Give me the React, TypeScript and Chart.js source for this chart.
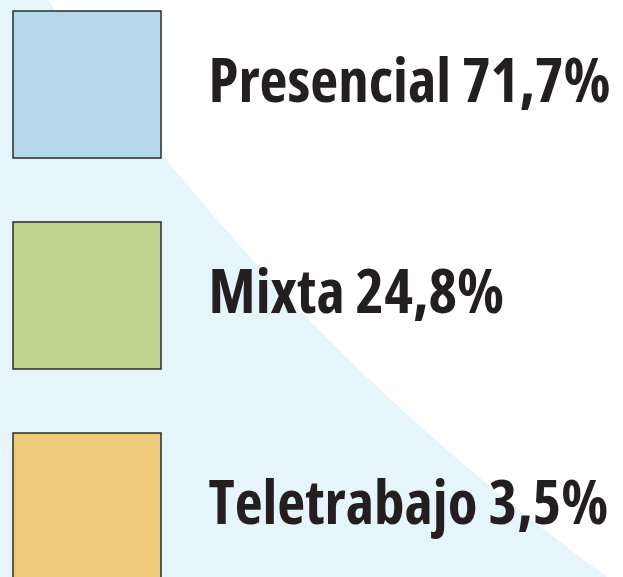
import { useEffect, useRef } from 'react';
import { Chart, registerables } from 'chart.js';

Chart.register(...registerables);

const categories = ['Presencial', 'Mixta', 'Teletrabajo'];
const shares = [71.7, 24.8, 3.5];
const colors = ['#b4d9eb', '#bfd48f', '#eeca7a'];

const formatShare = (v: number) => v.toFixed(1).replace('.', ',') + '%';

const backdrop = {
  id: 'backdrop',
  beforeDraw(chart: any) {
    const { ctx, width, height } = chart;
    ctx.save();
    ctx.fillStyle = '#e6f4fb';
    ctx.fillRect(0, 0, width, height);
    ctx.beginPath();
    ctx.arc(1955, -1288, 2301, 0, Math.PI * 2);
    ctx.fillStyle = '#ffffff';
    ctx.fill();
    ctx.restore();
  },
};

export default function App() {
  const ref = useRef<HTMLCanvasElement | null>(null);

  useEffect(() => {
    document.body.style.margin = '0';
    const canvas = ref.current;
    if (!canvas) return;
    const chart = new Chart(canvas, {
      type: 'pie',
      data: {
        labels: categories,
        datasets: [
          {
            data: shares,
            backgroundColor: colors,
            borderWidth: 0,
            radius: 0,
          } as any,
        ],
      },
      options: {
        responsive: false,
        animation: false,
        events: [],
        layout: { padding: { left: -51, top: -53, right: 0, bottom: -140 } },
        plugins: {
          tooltip: { enabled: false },
          legend: {
            position: 'left',
            align: 'start',
            maxWidth: 900,
            labels: {
              boxWidth: 148,
              boxHeight: 147,
              padding: 64,
              color: '#231f20',
              font: {
                family: "'Open Sans', Roboto, sans-serif",
                size: 61,
                weight: '720 condensed',
              },
              generateLabels: (c: any) =>
                c.data.labels.map((label: string, i: number) => ({
                  text: ' \u200A' + label + ' ' + formatShare(c.data.datasets[0].data[i]),
                  fillStyle: c.data.datasets[0].backgroundColor[i],
                  strokeStyle: '#2b2b2b',
                  lineWidth: 1.5,
                  fontColor: '#231f20',
                  hidden: false,
                  index: i,
                })),
            },
          },
        },
      } as any,
      plugins: [backdrop],
    });
    return () => chart.destroy();
  }, []);

  return (
    <div style={{ width: 623, height: 577, overflow: 'hidden' }}>
      <canvas ref={ref} width={623} height={577} style={{ display: 'block' }} />
    </div>
  );
}
